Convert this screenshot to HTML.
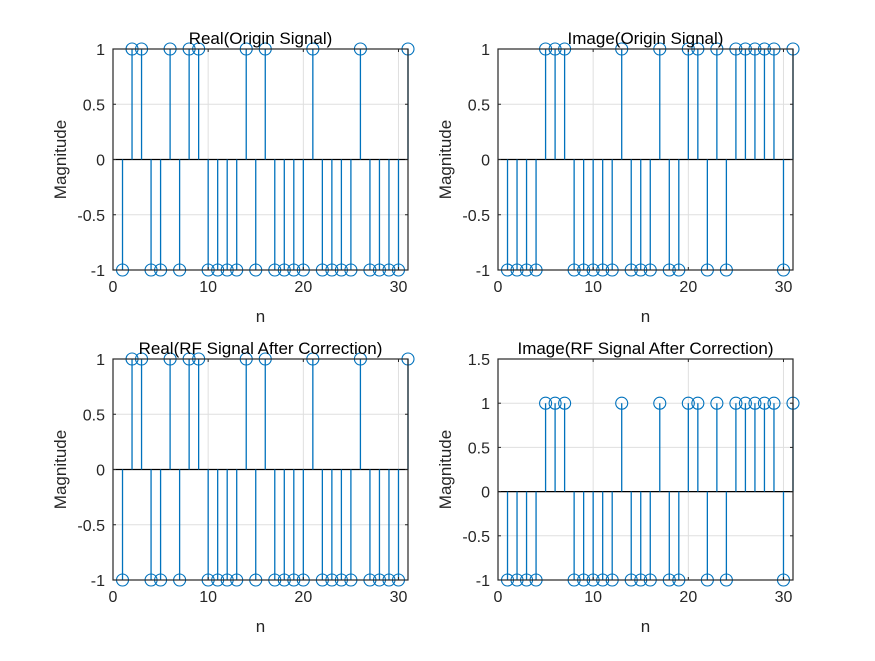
<!DOCTYPE html>
<html><head><meta charset="utf-8"><style>
body{margin:0;background:#fff}
svg text{font-family:"Liberation Sans",Arial,sans-serif;fill:#262626}
</style></head><body>
<svg id="fig" width="875" height="656" viewBox="0 0 875 656" xmlns="http://www.w3.org/2000/svg"></svg>
<script>
const nValues=[1,2,3,4,5,6,7,8,9,10,11,12,13,14,15,16,17,18,19,20,21,22,23,24,25,26,27,28,29,30,31];
const realValues=[-1,1,1,-1,-1,1,-1,1,1,-1,-1,-1,-1,1,-1,1,-1,-1,-1,-1,1,-1,-1,-1,-1,1,-1,-1,-1,-1,1];
const imagValues=[-1,-1,-1,-1,1,1,1,-1,-1,-1,-1,-1,1,-1,-1,-1,1,-1,-1,1,1,-1,1,-1,1,1,1,1,1,-1,1];
const xTicks=[0,10,20,30];
const yTicksA=[-1,-0.5,0,0.5,1];
const yTicksB=[-1,-0.5,0,0.5,1,1.5];
const NS="http://www.w3.org/2000/svg";
const svg=document.getElementById('fig');
function mk(t,a,p){const e=document.createElementNS(NS,t);for(const k in a)e.setAttribute(k,a[k]);(p||svg).appendChild(e);return e;}
function plot(name,title,L,R,T,B,ymin,ymax,yticks,vals){
  const g=mk('g',{});
  
  
  const sx=v=>L+(v-0)/(31-0)*(R-L);
  const sy=v=>B-(v-ymin)/(ymax-ymin)*(B-T);
  mk('rect',{x:L,y:T,width:R-L,height:B-T,fill:'#fff'},g);
  xTicks.forEach(t=>{mk('line',{x1:sx(t),x2:sx(t),y1:T,y2:B,stroke:'#dfdfdf','stroke-width':1},g);});
  yticks.forEach(t=>{mk('line',{x1:L,x2:R,y1:sy(t),y2:sy(t),stroke:'#dfdfdf','stroke-width':1},g);});
  mk('line',{x1:L,x2:R,y1:sy(0),y2:sy(0),stroke:'#000','stroke-width':1.2},g);
  nValues.forEach((n,i)=>{
    const st=mk('line',{x1:sx(n),x2:sx(n),y1:sy(0),y2:sy(vals[i]),stroke:'#0072BD','stroke-width':1.3},g);
    
    
    const c=mk('circle',{cx:sx(n),cy:sy(vals[i]),r:6,fill:'none',stroke:'#0072BD','stroke-width':1.1},g);
    
    
  });
  mk('rect',{x:L,y:T,width:R-L,height:B-T,fill:'none',stroke:'#262626','stroke-width':1.2},g);
  xTicks.forEach(t=>{
    mk('line',{x1:sx(t),x2:sx(t),y1:B,y2:B-3,stroke:'#262626'},g);
    mk('line',{x1:sx(t),x2:sx(t),y1:T,y2:T+3,stroke:'#262626'},g);
    const tx=mk('text',{x:sx(t),y:B+22,'text-anchor':'middle','font-size':16},g);tx.textContent=t;
    
    
  });
  yticks.forEach(t=>{
    mk('line',{x1:L,x2:L+3,y1:sy(t),y2:sy(t),stroke:'#262626'},g);
    mk('line',{x1:R,x2:R-3,y1:sy(t),y2:sy(t),stroke:'#262626'},g);
    const tx=mk('text',{x:L-8,y:sy(t)+6,'text-anchor':'end','font-size':16},g);tx.textContent=t;
    
    
  });
  const ti=mk('text',{x:(L+R)/2,y:T-5,'text-anchor':'middle','font-size':17,style:'fill:#000'},g);ti.textContent=title;
  
  
  const xl=mk('text',{x:(L+R)/2,y:B+52,'text-anchor':'middle','font-size':17},g);xl.textContent='n';
  
  
  const yx=L-47,yy=(T+B)/2;
  const yl=mk('text',{x:yx,y:yy,'text-anchor':'middle','font-size':17,transform:`rotate(-90 ${yx} ${yy})`},g);yl.textContent='Magnitude';
  
  
}
plot('real-origin-plot','Real(Origin Signal)',113,408,49,270,-1,1,yTicksA,realValues);
plot('image-origin-plot','Image(Origin Signal)',498,793,49,270,-1,1,yTicksA,imagValues);
plot('real-rf-plot','Real(RF Signal After Correction)',113,408,359,580,-1,1,yTicksA,realValues);
plot('image-rf-plot','Image(RF Signal After Correction)',498,793,359,580,-1,1.5,yTicksB,imagValues);
</script>
</body></html>
